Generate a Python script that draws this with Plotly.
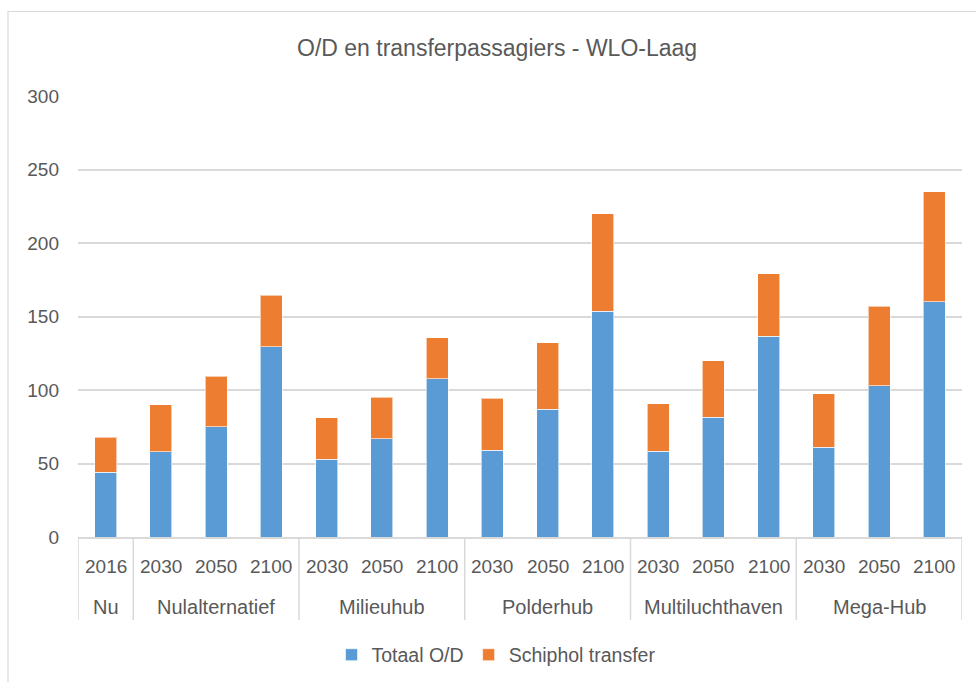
import plotly.graph_objects as go

# ---- data ----
years = ["2016", "2030", "2050", "2100", "2030", "2050", "2100", "2030", "2050", "2100",
         "2030", "2050", "2100", "2030", "2050", "2100"]
groups = ["Nu", "Nulalternatief", "Milieuhub", "Polderhub", "Multiluchthaven", "Mega-Hub"]
group_sizes = [1, 3, 3, 3, 3, 3]
totaal_od = [44, 58, 75, 129.5, 53, 67, 107.5, 59, 87, 153.5, 58.5, 81.5, 136.5, 61, 103, 160]
schiphol_transfer = [24, 32, 34.5, 35, 28, 28, 28, 35.5, 45, 66.5, 32, 38.5, 42.5, 36.5, 54, 75]
y_ticks = [0, 50, 100, 150, 200, 250, 300]

BLUE = "#5B9BD5"
ORANGE = "#ED7D31"
GRID = "#D9D9D9"
TEXT = "#595959"
FONT = "Liberation Sans"

W, H = 976, 682
ML, MR, MT, MB = 78, 14, 96, 145
PW, PH = W - ML - MR, H - MT - MB

def px_to_py(ypx):
    return (MT + PH - ypx) / PH

def px_to_px(xpx):
    return (xpx - ML) / PW

xs = list(range(len(years)))

fig = go.Figure()
fig.add_trace(go.Bar(x=xs, y=totaal_od, name="Totaal O/D", width=0.4,
                     marker=dict(color=BLUE, line=dict(color="rgba(255,255,255,0.6)", width=1))))
fig.add_trace(go.Bar(x=xs, y=schiphol_transfer, name="Schiphol transfer", width=0.4,
                     marker=dict(color=ORANGE, line=dict(color="rgba(255,255,255,0.6)", width=1))))

annotations = []
# title
annotations.append(dict(text="O/D en transferpassagiers - WLO-Laag", xref="paper", yref="paper",
                        x=px_to_px(497), y=px_to_py(48), xanchor="center", yanchor="middle",
                        showarrow=False, font=dict(family=FONT, size=23, color=TEXT)))
# year labels
for i, yr in enumerate(years):
    annotations.append(dict(text=yr, xref="x", yref="paper", x=i, y=px_to_py(566),
                            xanchor="center", yanchor="middle", showarrow=False,
                            font=dict(family=FONT, size=19, color=TEXT)))
# group labels and dividers
shapes = []
start = 0
bounds = [-0.5]
for g, n in zip(groups, group_sizes):
    center = start + (n - 1) / 2
    annotations.append(dict(text=g, xref="x", yref="paper", x=center, y=px_to_py(607),
                            xanchor="center", yanchor="middle", showarrow=False,
                            font=dict(family=FONT, size=20, color=TEXT)))
    start += n
    bounds.append(start - 0.5)
for b in bounds:
    shapes.append(dict(type="line", xref="x", yref="paper", x0=b, x1=b, y0=0, y1=px_to_py(620),
                       line=dict(color=GRID, width=1.5)))
# chart border
shapes.append(dict(type="rect", xref="paper", yref="paper",
                   x0=px_to_px(8), x1=px_to_px(990), y0=px_to_py(700), y1=px_to_py(11.5),
                   line=dict(color=GRID, width=1.2), fillcolor="rgba(0,0,0,0)", layer="below"))

fig.update_layout(
    width=W, height=H, autosize=False,
    margin=dict(l=ML, r=MR, t=MT, b=MB, autoexpand=False),
    barmode="stack",
    paper_bgcolor="white", plot_bgcolor="white",
    showlegend=True,
    legend=dict(orientation="h", x=px_to_px(496), xanchor="center", y=px_to_py(655), yanchor="middle",
                font=dict(family=FONT, size=19.5, color=TEXT), traceorder="normal",
                bgcolor="rgba(0,0,0,0)"),
    xaxis=dict(range=[-0.5, len(years) - 0.5], showticklabels=False, showgrid=False,
               zeroline=False, showline=True, linecolor=GRID, linewidth=1.5, ticks=""),
    yaxis=dict(range=[0, 300], tickvals=y_ticks, showgrid=True, gridcolor=GRID, gridwidth=1.5,
               zeroline=False, showline=False, ticks="", ticklabelstandoff=18,
               tickfont=dict(family=FONT, size=19, color=TEXT)),
    annotations=annotations, shapes=shapes,
)

fig.write_html("out.html", config={"displayModeBar": False},
               post_script="document.body.style.margin='0';document.body.style.overflow='hidden';")
